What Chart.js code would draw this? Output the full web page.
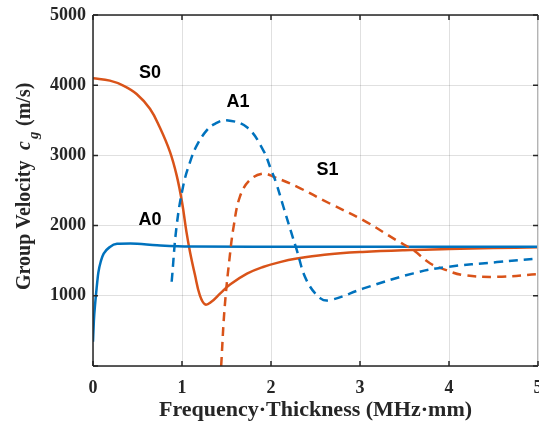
<!DOCTYPE html>
<html>
<head>
<meta charset="utf-8">
<script src="https://cdn.jsdelivr.net/npm/chart.js@4.4.0/dist/chart.umd.min.js"></script>
<style>
  html, body { margin: 0; padding: 0; background: #fff; }
  #wrap { width: 539px; height: 425px; }
</style>
</head>
<body>
<div id="wrap"><canvas id="lamb" width="539" height="425"></canvas></div>
<script>
// Lamb wave group velocity dispersion curves
var a0X = [0, 0.01, 0.025, 0.04, 0.06, 0.09, 0.12, 0.19, 0.27, 0.42, 0.72, 1.09, 2, 3, 4, 5];
var a0Y = [345, 650, 900, 1100, 1330, 1500, 1600, 1696, 1740, 1745, 1720, 1702, 1700, 1700, 1700, 1700];

var s0X = [0, 0.19, 0.34, 0.49, 0.64, 0.75, 0.865, 0.94, 1.0, 1.05, 1.09, 1.146, 1.2, 1.26, 1.33, 1.43, 1.54, 1.73, 1.91, 2.1, 2.29, 2.6, 3.03, 3.5, 4, 4.5, 5];
var s0Y = [4100, 4065, 3995, 3875, 3665, 3400, 3050, 2715, 2335, 1910, 1625, 1295, 1010, 877, 915, 1035, 1160, 1315, 1410, 1480, 1530, 1585, 1625, 1650, 1665, 1680, 1690];

var a1X = [0.884, 0.94, 1.015, 1.09, 1.165, 1.28, 1.37, 1.5, 1.73, 1.91, 2.0, 2.06, 2.14, 2.29, 2.4, 2.56, 2.67, 3.04, 3.6, 3.97, 4.54, 5];
var a1Y = [1200, 2000, 2575, 2905, 3140, 3360, 3450, 3500, 3400, 3080, 2800, 2600, 2265, 1650, 1220, 960, 940, 1105, 1320, 1410, 1480, 1530];

var s1X = [1.44, 1.48, 1.54, 1.58, 1.65, 1.76, 1.91, 2.03, 2.29, 2.66, 3.04, 3.41, 3.6, 3.79, 3.97, 4.16, 4.54, 5];
var s1Y = [0, 845, 1600, 1985, 2410, 2645, 2740, 2695, 2555, 2315, 2075, 1790, 1650, 1460, 1365, 1295, 1270, 1310];

var modeNames = ['S0', 'A1', 'S1', 'A0'];
var modeLabelX = [0.64, 1.63, 2.635, 0.64];
var modeLabelY = [4180, 3760, 2790, 2075];

var xTicks = [0, 1, 2, 3, 4, 5];
var yTicks = [0, 1000, 2000, 3000, 4000, 5000];

var BLUE = 'rgb(0,114,189)';
var ORANGE = 'rgb(217,83,25)';
var SERIF = '"Liberation Serif", "Times New Roman", serif';

function pts(xs, ys) {
    return xs.map(function(x, i) { return { x: x, y: ys[i] }; });
}

// box, inward ticks, curve labels and the y title (MATLAB look)
var matlabAxes = {
    id: 'matlabAxes',
    afterDatasetsDraw: function(chart) {
        var ctx = chart.ctx;
        var a = chart.chartArea;
        var xs = chart.scales.x, ys = chart.scales.y;
        ctx.save();

        // mode labels
        ctx.fillStyle = '#000';
        ctx.font = 'bold 18px "Liberation Sans", Arial, sans-serif';
        ctx.textAlign = 'center';
        ctx.textBaseline = 'middle';
        modeNames.forEach(function(n, i) {
            ctx.fillText(n, xs.getPixelForValue(modeLabelX[i]), ys.getPixelForValue(modeLabelY[i]));
        });

        // box
        ctx.lineWidth = 1.5;
        ctx.strokeStyle = '#262626';
        ctx.beginPath();
        ctx.moveTo(a.left, a.top); ctx.lineTo(a.right, a.top);
        ctx.moveTo(a.left, a.top); ctx.lineTo(a.left, a.bottom);
        ctx.moveTo(a.left, a.bottom); ctx.lineTo(a.right, a.bottom);
        ctx.stroke();
        ctx.strokeStyle = '#b4b4b4';
        ctx.lineWidth = 1;
        ctx.beginPath();
        ctx.moveTo(a.right - 0.5, a.top); ctx.lineTo(a.right - 0.5, a.bottom);
        ctx.stroke();

        // inward ticks
        ctx.strokeStyle = '#262626';
        ctx.lineWidth = 1.5;
        ctx.beginPath();
        xTicks.forEach(function(t) {
            var px = xs.getPixelForValue(t);
            ctx.moveTo(px, a.bottom); ctx.lineTo(px, a.bottom - 5);
            ctx.moveTo(px, a.top); ctx.lineTo(px, a.top + 5);
        });
        yTicks.forEach(function(t) {
            var py = ys.getPixelForValue(t);
            ctx.moveTo(a.left, py); ctx.lineTo(a.left + 5, py);
            ctx.moveTo(a.right, py); ctx.lineTo(a.right - 5, py);
        });
        ctx.stroke();

        // y title with italic c and subscript g
        ctx.translate(30, 290);
        ctx.rotate(-Math.PI / 2);
        ctx.textAlign = 'left';
        ctx.textBaseline = 'alphabetic';
        ctx.fillStyle = '#262626';
        ctx.font = 'bold 20px ' + SERIF;
        ctx.fillText('Group Velocity', 0, 0);
        ctx.font = 'italic bold 20px ' + SERIF;
        ctx.fillText('c', 140, 0);
        ctx.font = 'italic bold 15px ' + SERIF;
        ctx.fillText('g', 151, 8);
        ctx.font = 'bold 20px ' + SERIF;
        ctx.fillText('(m/s)', 164, 0);
        ctx.restore();
    }
};

document.addEventListener("DOMContentLoaded", function() {
    var ctx = document.getElementById('lamb').getContext('2d');
    var lineStyle = { showLine: true, pointRadius: 0, borderWidth: 2.5, fill: false, tension: 0.4 };
    var chart = new Chart(ctx, {
        type: 'scatter',
        data: {
            datasets: [
                Object.assign({ label: 'A1', data: pts(a1X, a1Y), borderColor: BLUE, borderDash: [9, 6] }, lineStyle),
                Object.assign({ label: 'S1', data: pts(s1X, s1Y), borderColor: ORANGE, borderDash: [9, 6] }, lineStyle),
                Object.assign({ label: 'A0', data: pts(a0X, a0Y), borderColor: BLUE }, lineStyle, { cubicInterpolationMode: 'monotone' }),
                Object.assign({ label: 'S0', data: pts(s0X, s0Y), borderColor: ORANGE }, lineStyle)
            ]
        },
        options: {
            responsive: false,
            animation: false,
            devicePixelRatio: 1,
            layout: { padding: { top: 15, right: 1, left: 0, bottom: 0 } },
            plugins: {
                legend: { display: false },
                tooltip: { enabled: false }
            },
            scales: {
                x: {
                    type: 'linear',
                    min: 0, max: 5,
                    afterFit: function(s) { s.height = 59; s.paddingLeft = 0; s.paddingRight = 0; },
                    ticks: {
                        stepSize: 1,
                        padding: 12,
                        color: '#262626',
                        font: { family: SERIF, size: 18, weight: 'bold' }
                    },
                    grid: { color: 'rgba(0,0,0,0.12)', drawTicks: false },
                    border: { display: false },
                    title: {
                        display: true,
                        text: 'Frequency\u00b7Thickness (MHz\u00b7mm)',
                        color: '#262626',
                        padding: { top: 0, bottom: 1 },
                        font: { family: SERIF, size: 22, weight: 'bold' }
                    }
                },
                y: {
                    type: 'linear',
                    min: 0, max: 5000,
                    afterFit: function(s) { s.width = 93; s.paddingTop = 0; s.paddingBottom = 0; },
                    ticks: {
                        stepSize: 1000,
                        padding: 7,
                        color: '#262626',
                        font: { family: SERIF, size: 18, weight: 'bold' },
                        callback: function(v) { return v === 0 ? '' : v; }
                    },
                    grid: { color: 'rgba(0,0,0,0.12)', drawTicks: false },
                    border: { display: false }
                }
            }
        },
        plugins: [matlabAxes]
    });
});
</script>
</body>
</html>
